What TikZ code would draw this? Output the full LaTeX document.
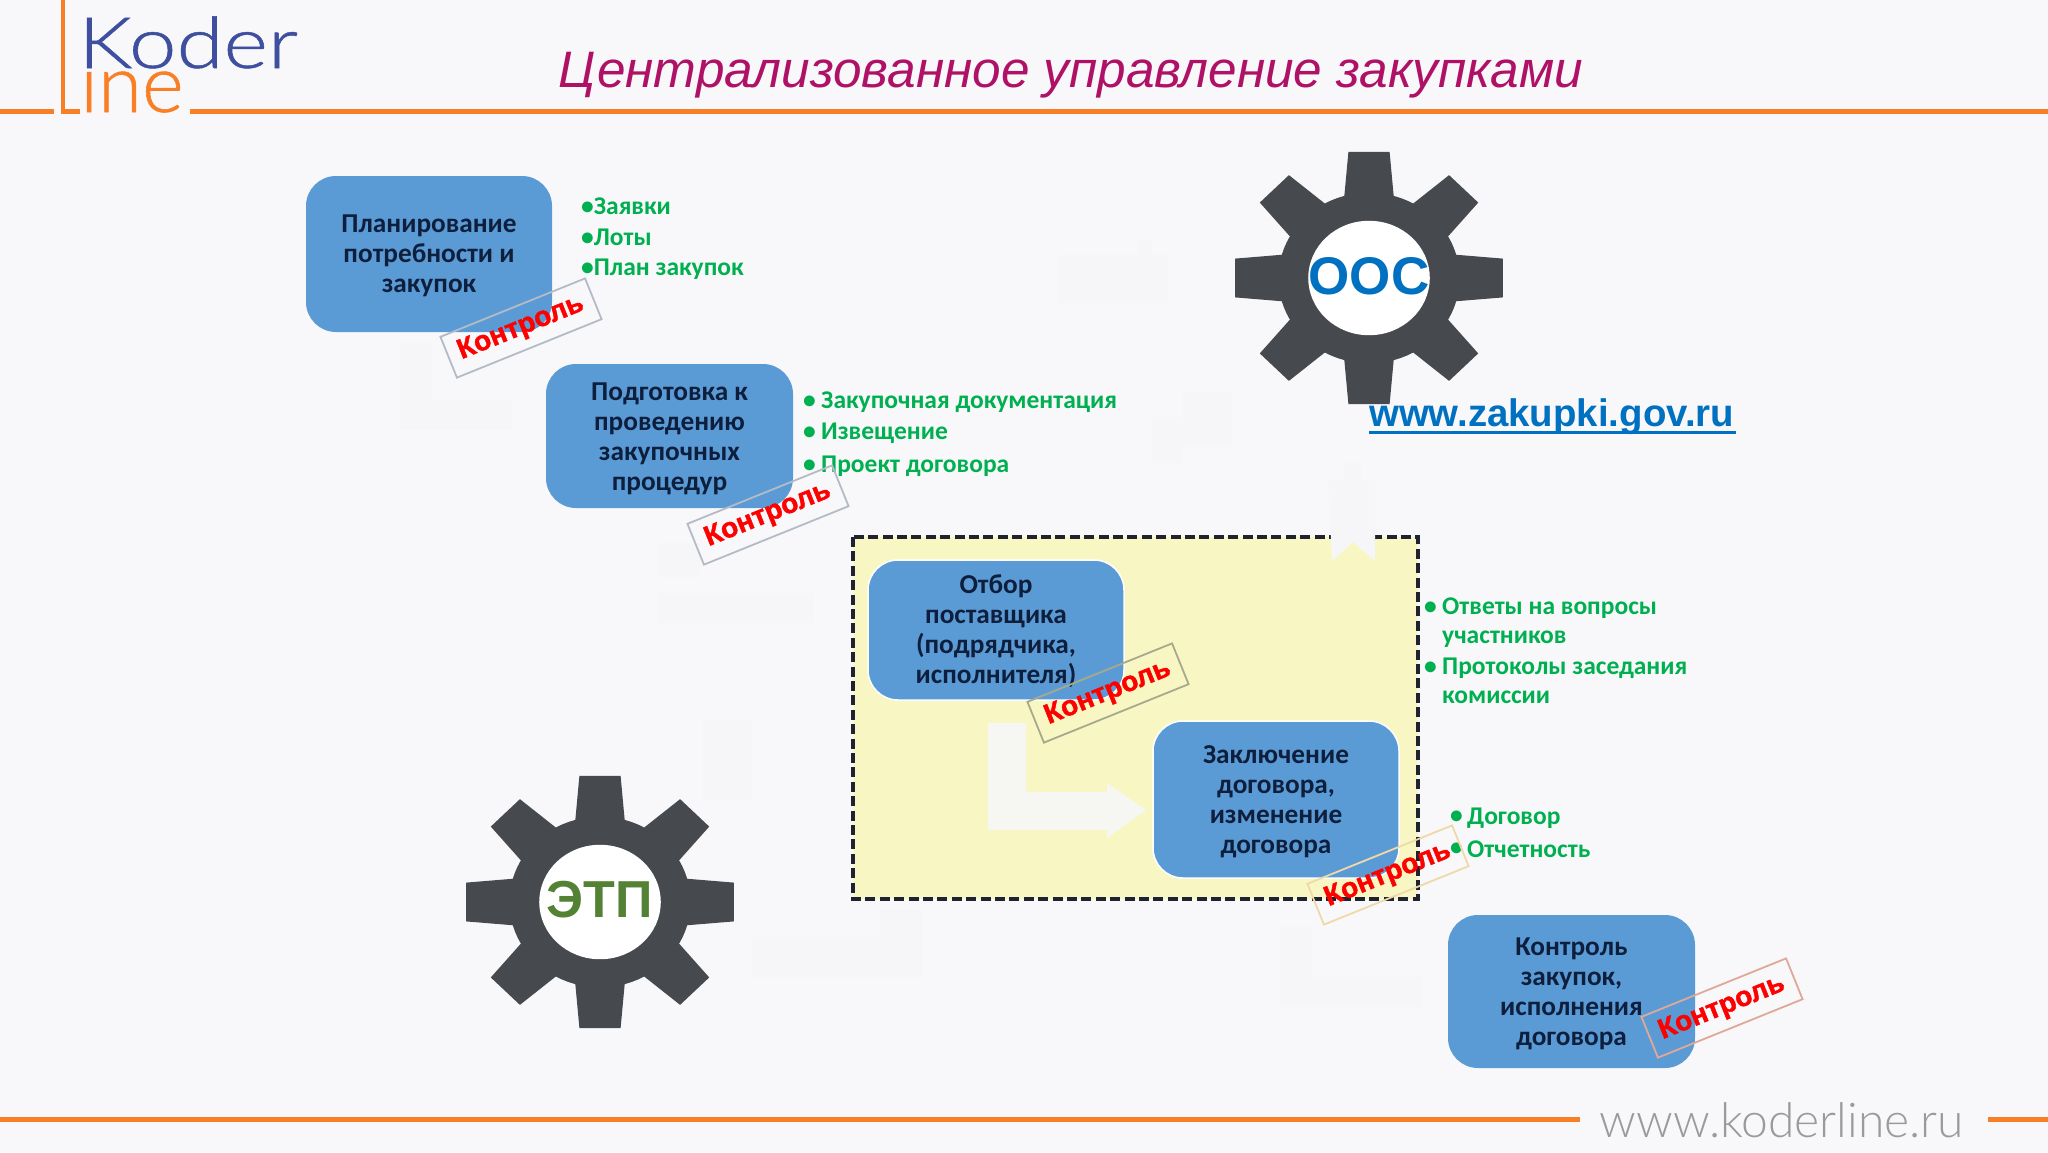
\documentclass[tikz,border=0pt]{standalone}
\usepackage{fontspec}
\setmainfont{Carlito}
\newfontfamily\arialf{Liberation Sans}
\newfontfamily\stampf[BoldFeatures={FakeBold=1.6}]{Liberation Sans}
\newfontfamily\logof[FakeBold=0.7]{Lato Light}
\newfontfamily\sitef{Lato Light}
\definecolor{bgc}{HTML}{F8F8FA}
\definecolor{ghostc}{HTML}{F6F6F8}
\definecolor{boxblue}{HTML}{5B9BD5}
\definecolor{boxtext}{HTML}{0E1F3E}
\definecolor{listgreen}{HTML}{00B050}
\definecolor{linkblue}{HTML}{0070C0}
\definecolor{orangeline}{HTML}{F97F26}
\definecolor{logoblue}{HTML}{3F4FA0}
\definecolor{titlec}{HTML}{AF1166}
\definecolor{gearc}{HTML}{46494D}
\definecolor{yellowc}{HTML}{F8F7C4}
\definecolor{dashc}{HTML}{1F2330}
\definecolor{etpgreen}{HTML}{548235}
\definecolor{sitegrey}{HTML}{9A9A9E}
\definecolor{arrowc}{HTML}{F6F6F2}
\definecolor{stampgrey}{HTML}{B4BBC6}
\definecolor{stampolive}{HTML}{A8A98C}
\definecolor{stamptan}{HTML}{EFD9A8}
\definecolor{stamprose}{HTML}{DFA898}
\tikzset{
  stagebox/.style={rounded corners=30pt,fill=boxblue,text=boxtext,inner sep=0pt,align=center,
    font=\fontsize{27.3}{30}\selectfont\bfseries},
  innerglow/.style={draw=white,line width=1.5pt},
  stamp/.style={rotate=22,draw=#1,line width=1.8pt,minimum width=156pt,minimum height=44pt,inner sep=0pt,
    text=red,font=\stampf\fontsize{28}{30}\selectfont\bfseries},
  listitem/.style={anchor=west,inner sep=0pt,text=listgreen,align=left,font=\fontsize{25.5}{28.5}\selectfont\bfseries},
  ghost/.style={fill=ghostc,draw=none},
  gearlabel/.style={inner sep=0pt,font=\arialf\bfseries}
}
\newcommand{\topfix}[1]{\rule{0pt}{#1pt}}
\newcommand{\mygear}[2]{%
  \begin{scope}[shift={(#1,#2)},x=1.03pt,y=-0.97pt]
    \fill[gearc] (74.2:88) \foreach \a in {90,135,...,405} {
      -- ({\a-15.8}:88) -- ({\a-8.75}:131.5) -- ({\a+8.75}:131.5) -- ({\a+15.8}:88)
      -- ({\a+20.3}:88) -- ({\a+24.7}:88)} -- cycle;
    \fill[white] (0,0) ellipse (59 and 59);
  \end{scope}}
\begin{document}
\begin{tikzpicture}[x=1pt,y=-1pt]
\useasboundingbox (0,0) rectangle (2048,1152);
\fill[bgc] (0,0) rectangle (2048,1152);

% faint background arrows
\fill[ghost] (1057,255) rectangle (1168,303);
\fill[ghost] (1137,240) rectangle (1152,255);
\fill[ghost] (1183,392) rectangle (1232,447);
\fill[ghost] (1152,417) rectangle (1183,463);
\fill[ghost] (400,343) rectangle (432,430);
\fill[ghost] (432,400) rectangle (512,430);
\fill[ghost] (657,543) rectangle (700,577);
\fill[ghost] (657,593) rectangle (813,623);
\fill[ghost] (703,720) rectangle (752,800);
\fill[ghost] (752,937) rectangle (923,977);
\fill[ghost] (880,910) rectangle (923,937);
\fill[ghost] (1280,927) rectangle (1312,1007);
\fill[ghost] (1312,977) rectangle (1423,1007);

% header
\draw[orangeline,line width=5.5pt] (0,111.5) -- (54,111.5);
\draw[orangeline,line width=5.5pt] (190,111.5) -- (2048,111.5);
\draw[orangeline,line width=4.5pt] (63,0) -- (63,111.5) -- (80,111.5);
\node[anchor=base west,inner sep=0pt,text=logoblue,xscale=1.2,font=\logof\fontsize{71}{71}\selectfont] (koder) at (78,68) {Koder};
\node[anchor=base west,inner sep=0pt,text=orangeline,font=\logof\fontsize{80}{80}\selectfont] (line) at (80,112) {ıne};
\node[inner sep=0pt,text=titlec,font=\arialf\itshape\fontsize{51.3}{51.3}\selectfont] (title) at (1071,75) {Централизованное управление закупками};

% gears
\mygear{1369}{278}
\node[gearlabel,text=linkblue,font=\arialf\bfseries\fontsize{53}{53}\selectfont] (ooc) at (1369,276) {ООС};
\mygear{600}{902}
\node[gearlabel,text=etpgreen,font=\arialf\bfseries\fontsize{52}{52}\selectfont] (etp) at (600,900) {ЭТП};
\node[inner sep=0pt,anchor=base west,text=linkblue,font=\arialf\bfseries\fontsize{38.4}{38.4}\selectfont] (site) at (1369,426) {www.zakupki.gov.ru};
\draw[linkblue,line width=3pt] (1369,432) -- (1736,432);

% yellow group
\fill[yellowc] (853,537) rectangle (1418,899);
\draw[dashc,line width=3.8pt,dash pattern=on 10pt off 4.4pt] (853,537) rectangle (1418,899);
\fill[ghost] (1328,480) -- (1344,480) -- (1344,463) -- (1361,463) -- (1361,480) -- (1375,480) -- (1375,561) -- (1353,542) -- (1332,561) -- cycle;
\fill[arrowc] (988,723) -- (1026,723) -- (1026,792) -- (1107,792) -- (1107,783) -- (1146,810) -- (1107,838) -- (1107,830) -- (988,830) -- cycle;

% stage boxes
\node[stagebox,minimum width=246pt,minimum height=156pt] (b1) at (429,254) {\topfix{21}Планирование\\потребности и\\закупок};
\node[stagebox,minimum width=247pt,minimum height=144pt] (b2) at (669.5,436) {\topfix{23}Подготовка к\\проведению\\закупочных\\процедур};
\node[stagebox,innerglow,minimum width=256pt,minimum height=140pt] (b3) at (996,630) {\topfix{22}Отбор\\поставщика\\(подрядчика,\\исполнителя)};
\node[stagebox,innerglow,minimum width=246pt,minimum height=157pt] (b4) at (1276,799.5) {\topfix{23}Заключение\\договора,\\изменение\\договора};
\node[stagebox,minimum width=247pt,minimum height=153pt] (b5) at (1571.5,991.5) {\topfix{23}Контроль\\закупок,\\исполнения\\договора};

% lists
\node[listitem] (l11) at (581,206) {•Заявки};
\node[listitem] (l12) at (581,237) {•Лоты};
\node[listitem] (l13) at (581,269) {•План закупок};
\foreach \n/\yy/\t in {l21/402/Закупочная документация,l22/433/Извещение,l23/466/Проект договора}{
  \node[listitem] (\n) at (821,\yy) {\t};
  \node[listitem] (\n b) at (803,\yy) {•};
}
\node[listitem,anchor=north west] (l31) at (1442,598) {Ответы на вопросы\\участников};
\node[listitem] (l31b) at (1424,608) {•};
\node[listitem,anchor=north west] (l32) at (1442,658) {Протоколы заседания\\комиссии};
\node[listitem] (l32b) at (1424,668) {•};
\node[listitem] (l41) at (1467,818) {Договор};
\node[listitem] (l41b) at (1450,817) {•};
\node[listitem] (l42) at (1467,849) {Отчетность};
\node[listitem] (l42b) at (1450,849) {•};

% stamps
\node[stamp=stampgrey] (s1) at (521,328) {Контроль};
\node[stamp=stampgrey] (s2) at (768,515) {Контроль};
\node[stamp=stampolive] (s3) at (1108,693) {Контроль};
\node[stamp=stamptan] (s4) at (1388,875) {Контроль};
\node[stamp=stamprose] (s5) at (1722,1008) {Контроль};

% footer
\draw[orangeline,line width=5pt] (0,1119) -- (1580,1119);
\draw[orangeline,line width=5pt] (1988,1119) -- (2048,1119);
\node[inner sep=0pt,text=sitegrey,font=\sitef\fontsize{48}{48}\selectfont] (foot) at (1782,1120) {www.koderline.ru};
\end{tikzpicture}
\end{document}
